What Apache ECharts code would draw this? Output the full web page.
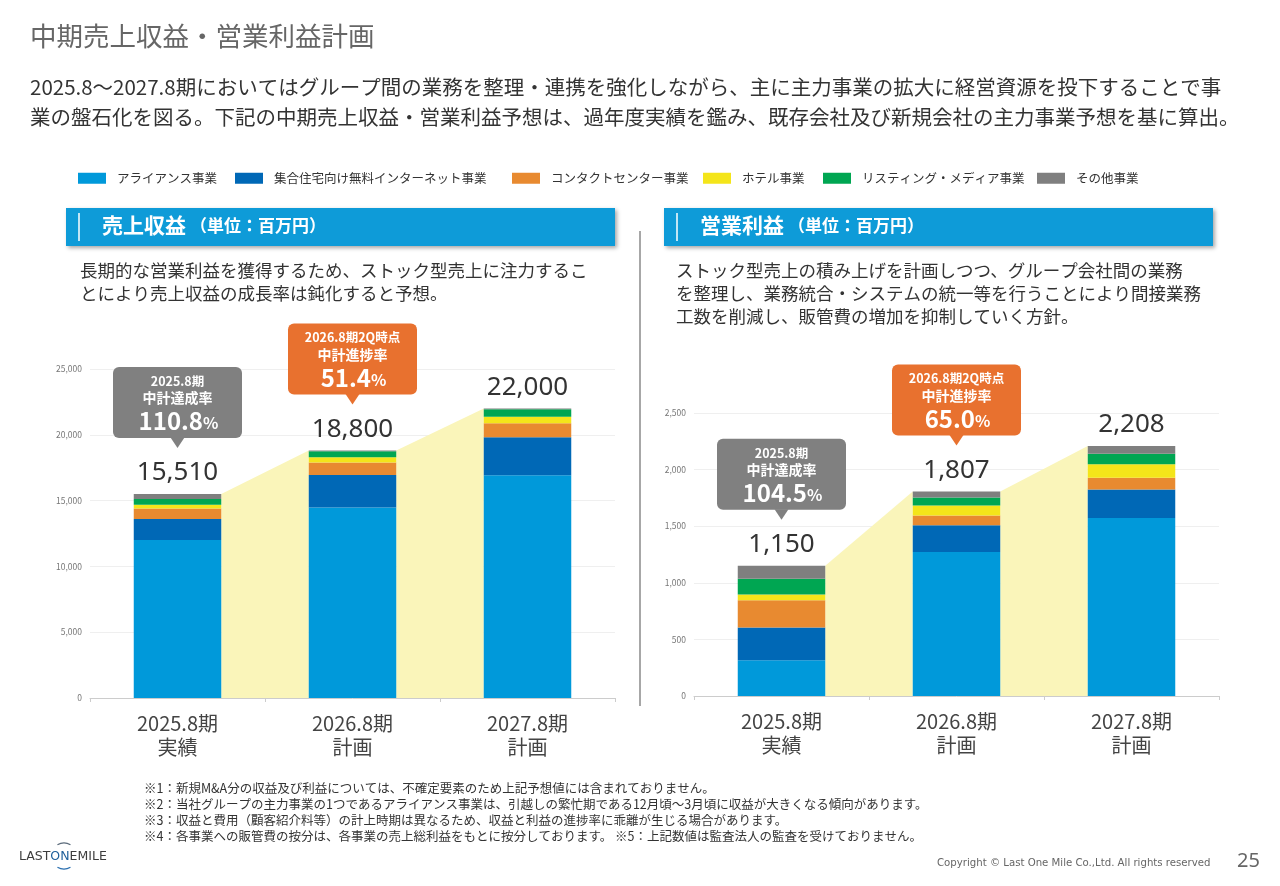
<!DOCTYPE html>
<html>
<head>
<meta charset="utf-8">
<script src="https://cdn.jsdelivr.net/npm/echarts@6/dist/echarts.min.js"></script>
<style>
html,body{margin:0;padding:0;background:#fff;}
#main{width:1280px;height:886px;}
</style>
</head>
<body>
<div id="main"></div>
<script>
// ---------- data ----------
const categories = ['2025.8期\n実績', '2026.8期\n計画', '2027.8期\n計画'];
const segmentNames = ['アライアンス事業', '集合住宅向け無料インターネット事業', 'コンタクトセンター事業', 'ホテル事業', 'リスティング・メディア事業', 'その他事業'];

// 売上収益 (百万円)
const revAlliance = [12000, 14470, 16930];
const revInternet = [1600, 2480, 2880];
const revContact  = [800, 940, 1060];
const revHotel    = [280, 400, 510];
const revListing  = [450, 460, 560];
const revOther    = [380, 50, 60];
const revTotals   = [15510, 18800, 22000];

// 営業利益 (百万円)
const opAlliance = [316, 1272, 1573];
const opInternet = [290, 236, 251];
const opContact  = [240, 86, 103];
const opHotel    = [50, 88, 121];
const opListing  = [140, 71, 92];
const opOther    = [114, 54, 68];
const opTotals   = [1150, 1807, 2208];

const calloutHeads = ['2025.8期', '2026.8期2Q時点'];
const calloutKinds = ['中計達成率', '中計進捗率'];
const revRates = ['110.8', '51.4'];
const opRates  = ['104.5', '65.0'];
const revGrowth = ['+21.1%', '+17.0%'];
const opGrowth  = ['+57.1%', '+22.2%'];
const growthPrefix = '前年比';

const titleText = '中期売上収益・営業利益計画';
const leadLines = [
  '2025.8～2027.8期においてはグループ間の業務を整理・連携を強化しながら、主に主力事業の拡大に経営資源を投下することで事',
  '業の盤石化を図る。下記の中期売上収益・営業利益予想は、過年度実績を鑑み、既存会社及び新規会社の主力事業予想を基に算出。'
];
const revHeader = '売上収益';
const opHeader = '営業利益';
const unitText = '（単位：百万円）';
const revDesc = ['長期的な営業利益を獲得するため、ストック型売上に注力するこ', 'とにより売上収益の成長率は鈍化すると予想。'];
const opDesc = ['ストック型売上の積み上げを計画しつつ、グループ会社間の業務', 'を整理し、業務統合・システムの統一等を行うことにより間接業務', '工数を削減し、販管費の増加を抑制していく方針。'];
const footnotes = [
  '※1：新規M&A分の収益及び利益については、不確定要素のため上記予想値には含まれておりません。',
  '※2：当社グループの主力事業の1つであるアライアンス事業は、引越しの繁忙期である12月頃～3月頃に収益が大きくなる傾向があります。',
  '※3：収益と費用（顧客紹介料等）の計上時期は異なるため、収益と利益の進捗率に乖離が生じる場合があります。',
  '※4：各事業への販管費の按分は、各事業の売上総利益をもとに按分しております。 ※5：上記数値は監査法人の監査を受けておりません。'
];
const copyrightText = 'Copyright © Last One Mile Co.,Ltd. All rights reserved';
const pageNumber = '25';

// ---------- styling ----------
const FONT = "'Noto Sans CJK JP','Noto Sans',sans-serif";
const segColors = ['#0099DA', '#0068B6', '#E88A30', '#F4E51A', '#00A652', '#7F7F7F'];
const revData = [revAlliance, revInternet, revContact, revHotel, revListing, revOther];
const opData = [opAlliance, opInternet, opContact, opHotel, opListing, opOther];
const growthColor = '#E06B35';

function fmt(v) { return v.toLocaleString('en-US'); }

function barSeries(dataArr, totals, idx, stack) {
  return segmentNames.map((name, k) => {
    const s = {
      type: 'bar', name: name, stack: stack,
      xAxisIndex: idx, yAxisIndex: idx,
      barWidth: '50%',
      data: dataArr[k],
      itemStyle: { color: segColors[k] },
      z: 3
    };
    if (k === segmentNames.length - 1) {
      s.label = {
        show: true, position: 'top', distance: 8,
        formatter: p => fmt(totals[p.dataIndex]),
        fontSize: 26, color: '#333', fontFamily: "'Noto Sans',sans-serif"
      };
    }
    return s;
  });
}

function areaSeries(totals, idx) {
  const data = [];
  for (let i = 0; i < totals.length - 1; i++) data.push([i, totals[i], totals[i + 1]]);
  return {
    type: 'custom', xAxisIndex: idx, yAxisIndex: idx, silent: true, z: 1,
    encode: { x: 0, y: [1, 2] },
    data: data,
    renderItem: function (params, api) {
      const i = api.value(0);
      const a = api.coord([i, api.value(1)]);
      const b = api.coord([i + 1, api.value(2)]);
      const base = api.coord([i, 0]);
      const half = api.size([1, 0])[0] * 0.25;
      return {
        type: 'polygon',
        shape: { points: [[a[0] + half, a[1]], [b[0] - half, b[1]], [b[0] - half, base[1]], [a[0] + half, base[1]]] },
        style: { fill: '#FAF5BA' }
      };
    }
  };
}

function calloutSeries(totals, rates, idx) {
  return {
    type: 'custom', xAxisIndex: idx, yAxisIndex: idx, silent: true, z: 10,
    encode: { x: 0, y: 1 },
    data: rates.map((r, i) => [i, totals[i]]),
    renderItem: function (params, api) {
      const i = api.value(0);
      const p = api.coord([i, api.value(1)]);
      const tipX = p[0], tipY = p[1] - 46;
      const w = 129, h = 71;
      const bx = tipX - w / 2, by = tipY - 10 - h;
      const fill = i === 0 ? '#808080' : '#E8712F';
      const txt = (text, y, size) => ({
        type: 'text',
        style: {
          text: text, x: tipX, y: y, align: 'center', verticalAlign: 'middle',
          textAlign: 'center', textVerticalAlign: 'middle',
          fontSize: size, fontWeight: 'bold', fontFamily: FONT, fill: '#fff'
        }
      });
      return {
        type: 'group',
        children: [
          { type: 'rect', shape: { x: bx, y: by, width: w, height: h, r: 6 }, style: { fill: fill } },
          { type: 'polygon', shape: { points: [[tipX - 7, tipY - 10.5], [tipX + 7, tipY - 10.5], [tipX, tipY]] }, style: { fill: fill } },
          txt(calloutHeads[i], by + 14, 12.5),
          txt(calloutKinds[i], by + 31, 14),
          {
            type: 'text',
            style: {
              text: '{a|' + rates[i] + '}{b|%}', x: tipX + 1, y: by + 54,
              align: 'center', verticalAlign: 'middle', textAlign: 'center', textVerticalAlign: 'middle',
              fill: '#fff', fontFamily: FONT,
              rich: {
                a: { fontSize: 24, fontWeight: 'bold', fill: '#fff', color: '#fff', fontFamily: FONT },
                b: { fontSize: 16, fontWeight: 'bold', fill: '#fff', color: '#fff', fontFamily: FONT, padding: [5, 0, 0, 0] }
              }
            }
          }
        ]
      };
    }
  };
}

function xAxisCfg(idx) {
  return {
    gridIndex: idx, type: 'category', data: categories,
    axisLine: { lineStyle: { color: '#cccccc' } },
    axisTick: { show: true, length: 4, lineStyle: { color: '#cccccc' } },
    axisLabel: { fontSize: 20, color: '#444', lineHeight: 24, margin: 13, fontFamily: FONT }
  };
}
function yAxisCfg(idx, max, interval) {
  return {
    gridIndex: idx, type: 'value', min: 0, max: max, interval: interval,
    axisLine: { show: false }, axisTick: { show: false },
    axisLabel: { fontSize: 8.5, color: '#777', formatter: v => fmt(v), margin: 8 },
    splitLine: { lineStyle: { color: '#efefef' } }
  };
}

// legend components, each positioned individually
const legendLeft = [78, 235, 512, 703, 823, 1037];
const legends = segmentNames.map((n, k) => ({
  data: [{ name: n, icon: 'rect' }],
  left: legendLeft[k], top: 172, padding: 0,
  itemWidth: 28, itemHeight: 11,
  selectedMode: false,
  textStyle: { fontSize: 12.5, color: '#333', fontFamily: FONT, padding: [0, 0, 0, 6] }
}));

function text(x, y, str, opt) {
  return {
    type: 'text', x: x, y: y, silent: true,
    style: Object.assign({ text: str, fontFamily: FONT, fill: '#333', fontSize: 12 }, opt || {})
  };
}
function ctext(x, y, str, opt) {
  return text(x, y, str, Object.assign({ align: 'center', verticalAlign: 'middle', textAlign: 'center', textVerticalAlign: 'middle' }, opt || {}));
}

function header(x, label) {
  return [
    { type: 'rect', shape: { x: x, y: 208, width: 549, height: 38 },
      style: { fill: '#0E9BD8', shadowBlur: 4, shadowOffsetX: 2, shadowOffsetY: 2, shadowColor: 'rgba(0,0,0,0.35)' }, silent: true },
    { type: 'line', shape: { x1: x + 13, y1: 213, x2: x + 13, y2: 241 }, style: { stroke: '#fff', lineWidth: 1.5 }, silent: true },
    text(x + 36, 215, label, { fontSize: 21, fontWeight: 'bold', fill: '#fff' }),
    text(x + 124, 217, unitText, { fontSize: 17, fontWeight: 'bold', fill: '#fff' })
  ];
}

const graphics = [].concat(
  [
    text(30, 23, titleText, { fontSize: 26.5, fill: '#666' }),
    text(30, 72, leadLines.join('\n'), { fontSize: 20.5, lineHeight: 30, fill: '#333' })
  ],
  header(66, revHeader),
  header(664, opHeader),
  [
    { type: 'line', shape: { x1: 640, y1: 231, x2: 640, y2: 706 }, style: { stroke: '#8a8a8a', lineWidth: 1.5 }, silent: true },
    text(80, 259, revDesc.join('\n'), { fontSize: 17.5, lineHeight: 23, fill: '#333' }),
    text(676, 259, opDesc.join('\n'), { fontSize: 17.5, lineHeight: 23, fill: '#333' }),
    // growth annotations
    ctext(262, 515, growthPrefix, { fontSize: 14, fill: growthColor }),
    ctext(262, 534, revGrowth[0], { fontSize: 20, fill: growthColor, fontFamily: "'Noto Sans',sans-serif" }),
    ctext(440, 482, revGrowth[1], { fontSize: 20, fill: growthColor, fontFamily: "'Noto Sans',sans-serif" }),
    ctext(869, 569, growthPrefix, { fontSize: 14, fill: growthColor }),
    ctext(867, 588, opGrowth[0], { fontSize: 20, fill: growthColor, fontFamily: "'Noto Sans',sans-serif" }),
    ctext(1045, 505, opGrowth[1], { fontSize: 20, fill: growthColor, fontFamily: "'Noto Sans',sans-serif" }),
    // footnotes
    text(144, 780, footnotes.join('\n'), { fontSize: 12.5, lineHeight: 16, fill: '#333' }),
    // logo
    text(19, 850, '{g|LAST}{b|ON}{g|EMILE}', {
      fontSize: 12.5, fontFamily: "'DejaVu Sans',sans-serif",
      rich: {
        g: { fontSize: 12.5, fill: '#3c3c3c', color: '#3c3c3c', fontFamily: "'DejaVu Sans',sans-serif" },
        b: { fontSize: 12.5, fill: '#1f5f9a', color: '#1f5f9a', fontFamily: "'DejaVu Sans',sans-serif" }
      }
    }),
    { type: 'arc', shape: { cx: 64, cy: 856, r: 13, startAngle: -2.1, endAngle: -1.05 }, style: { stroke: '#5a6a7a', fill: 'none', lineWidth: 1.2 }, silent: true },
    { type: 'arc', shape: { cx: 64, cy: 856, r: 13, startAngle: 1.05, endAngle: 2.1 }, style: { stroke: '#2a6fb0', fill: 'none', lineWidth: 1.2 }, silent: true },
    // copyright & page
    text(937, 858, copyrightText, { fontSize: 11.3, fill: '#666', fontFamily: "'Liberation Sans Narrow','DejaVu Sans Condensed',sans-serif" }),
    text(1237, 851, pageNumber, { fontSize: 20, fill: '#666', fontFamily: "'Noto Sans',sans-serif" })
  ]
);

const chart = echarts.init(document.getElementById('main'), null, { renderer: 'canvas' });
chart.setOption({
  animation: false,
  backgroundColor: '#ffffff',
  textStyle: { fontFamily: FONT },
  legend: legends,
  grid: [
    { left: 90, width: 525, top: 369, height: 329 },
    { left: 694, width: 525, top: 413, height: 283 }
  ],
  xAxis: [xAxisCfg(0), xAxisCfg(1)],
  yAxis: [yAxisCfg(0, 25000, 5000), yAxisCfg(1, 2500, 500)],
  series: [].concat(
    [areaSeries(revTotals, 0), areaSeries(opTotals, 1)],
    barSeries(revData, revTotals, 0, 'rev'),
    barSeries(opData, opTotals, 1, 'op'),
    [calloutSeries(revTotals, revRates, 0), calloutSeries(opTotals, opRates, 1)]
  ),
  graphic: { elements: graphics }
});
</script>
</body>
</html>
